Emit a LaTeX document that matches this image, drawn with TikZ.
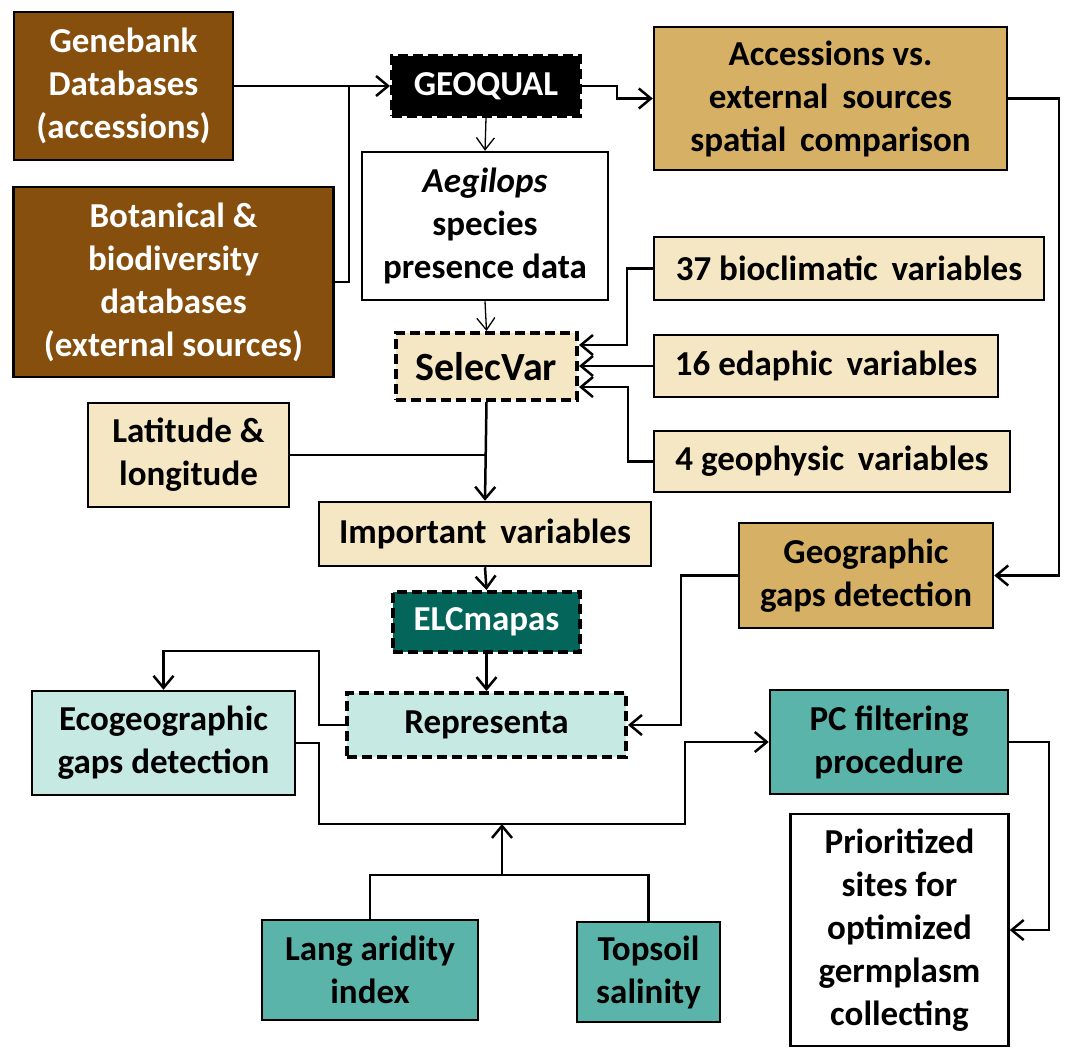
\documentclass[tikz,border=0pt]{standalone}
\usepackage{fontspec}
\setmainfont{Carlito}
\usetikzlibrary{arrows.meta}
\definecolor{dbrown}{RGB}{134,79,13}
\definecolor{tan}{RGB}{214,177,101}
\definecolor{cream}{RGB}{246,231,196}
\definecolor{dteal}{RGB}{4,101,91}
\definecolor{lteal}{RGB}{199,233,227}
\definecolor{mteal}{RGB}{91,180,169}
\begin{document}
\begin{tikzpicture}[x=1pt,y=-1pt,
  box/.style={draw=black, line width=2.5pt, align=center, inner sep=2pt,
    font=\fontsize{35}{43}\selectfont\bfseries},
  dbox/.style={box, line width=4pt, dash pattern=on 10pt off 5pt},
  line/.style={line width=2.5pt},
  conn/.style={line width=2.5pt, -{Straight Barb[length=12pt,width=20pt,line width=2.5pt]}},
  thinconn/.style={line width=1.3pt, -{Straight Barb[length=12pt,width=18pt,line width=1.3pt]}}]
\useasboundingbox (0,0) rectangle (1065,1049);

% nodes
\node[box, fill=dbrown, text=white, minimum width=219, minimum height=148] (gene) at (123.5,86) {Genebank\\Databases\\(accessions)};
\node[box, fill=dbrown, text=white, minimum width=320, minimum height=190] (bot) at (173.5,282) {Botanical \&\\biodiversity\\databases\\(external sources)};
\node[dbox, fill=black, text=white, minimum width=188, minimum height=60] (geoq) at (486,86) {GEOQUAL};
\node[box, fill=white, minimum width=246, minimum height=148] (aeg) at (485,226) {\textit{Aegilops}\\species\\presence data};
\node[box, fill=tan, minimum width=353, minimum height=143] (acc) at (830.5,98.5) {Accessions vs.\\external\, sources\\spatial\, comparison};
\node[box, fill=cream, minimum width=390, minimum height=63] (bio) at (849,268.5) {37 bioclimatic\, variables};
\node[box, fill=cream, minimum width=344, minimum height=62] (eda) at (826,366) {16 edaphic\, variables};
\node[box, fill=cream, minimum width=356, minimum height=61] (geo) at (832,461.5) {4 geophysic\, variables};
\node[dbox, fill=cream, minimum width=181, minimum height=67, font=\fontsize{40}{46}\selectfont\bfseries] (sel) at (486.5,366.5) {SelecVar};
\node[box, fill=cream, minimum width=201, minimum height=104] (lat) at (188.5,455) {Latitude \&\\longitude};
\node[box, fill=cream, minimum width=332, minimum height=64] (imp) at (485,534) {Important\, variables};
\node[box, fill=tan, minimum width=254, minimum height=105] (ggap) at (866,575.5) {Geographic\\gaps detection};
\node[dbox, fill=dteal, text=white, minimum width=187, minimum height=60] (elc) at (486.5,622) {ELCmapas};
\node[box, fill=lteal, minimum width=263, minimum height=104] (eco) at (163.5,743) {Ecogeographic\\gaps detection};
\node[dbox, fill=lteal, minimum width=279, minimum height=64] (rep) at (486.5,725) {Representa};
\node[box, fill=mteal, minimum width=238, minimum height=104] (pc) at (889,742) {PC filtering\\procedure};
\node[box, fill=white, minimum width=218, minimum height=232] (pri) at (899.5,930) {Prioritized\\sites for\\optimized\\germplasm\\collecting};
\node[box, fill=mteal, minimum width=216, minimum height=100] (lang) at (370,970) {Lang aridity\\index};
\node[box, fill=mteal, minimum width=143, minimum height=100] (top) at (648.5,972) {Topsoil\\salinity};

% junction coordinates
\coordinate (j1) at (349,86);
\coordinate (j4) at (502,875);
\coordinate (j5) at (502,824);

% connectors
\draw[conn] (gene.east) -- (geoq.west);
\draw[line] (bot.east) -| (j1);
\draw[thinconn] (geoq.south) -- (aeg.north);
\draw[conn] (geoq.east) -- (617,86) |- (acc.west);
\draw[thinconn] (aeg.south) -- (sel.north);
\draw[conn] (bio.west) -| (627,345) -- ([yshift=21.5pt]sel.east);
\draw[conn] (eda.west) -- (sel.east |- eda.west);
\draw[conn] (geo.west) -| (628,387) -- ([yshift=-20.5pt]sel.east);
\draw[conn] (sel.south) -- (imp.north);
\draw[line] (lat.east) -- (lat.east -| sel.south);
\draw[conn] (imp.south) -- (elc.north);
\draw[conn] (elc.south) -- (rep.north);
\draw[conn] (rep.west) -| (319,651) -| (eco.north);
\draw[conn] (acc.east) -| (1059,575.5) -- (ggap.east);
\draw[conn] (ggap.west) -| (681,725) -- (rep.east);
\draw[conn] (eco.east) -| (319,824) -| (685,742) -- (pc.west);
\draw[conn] (pc.east) -| (1049,930) -- (pri.east);
\draw[line] (lang.north) |- (j4) -| (top.north);
\draw[conn] (j4) -- (j5);
\end{tikzpicture}
\end{document}
